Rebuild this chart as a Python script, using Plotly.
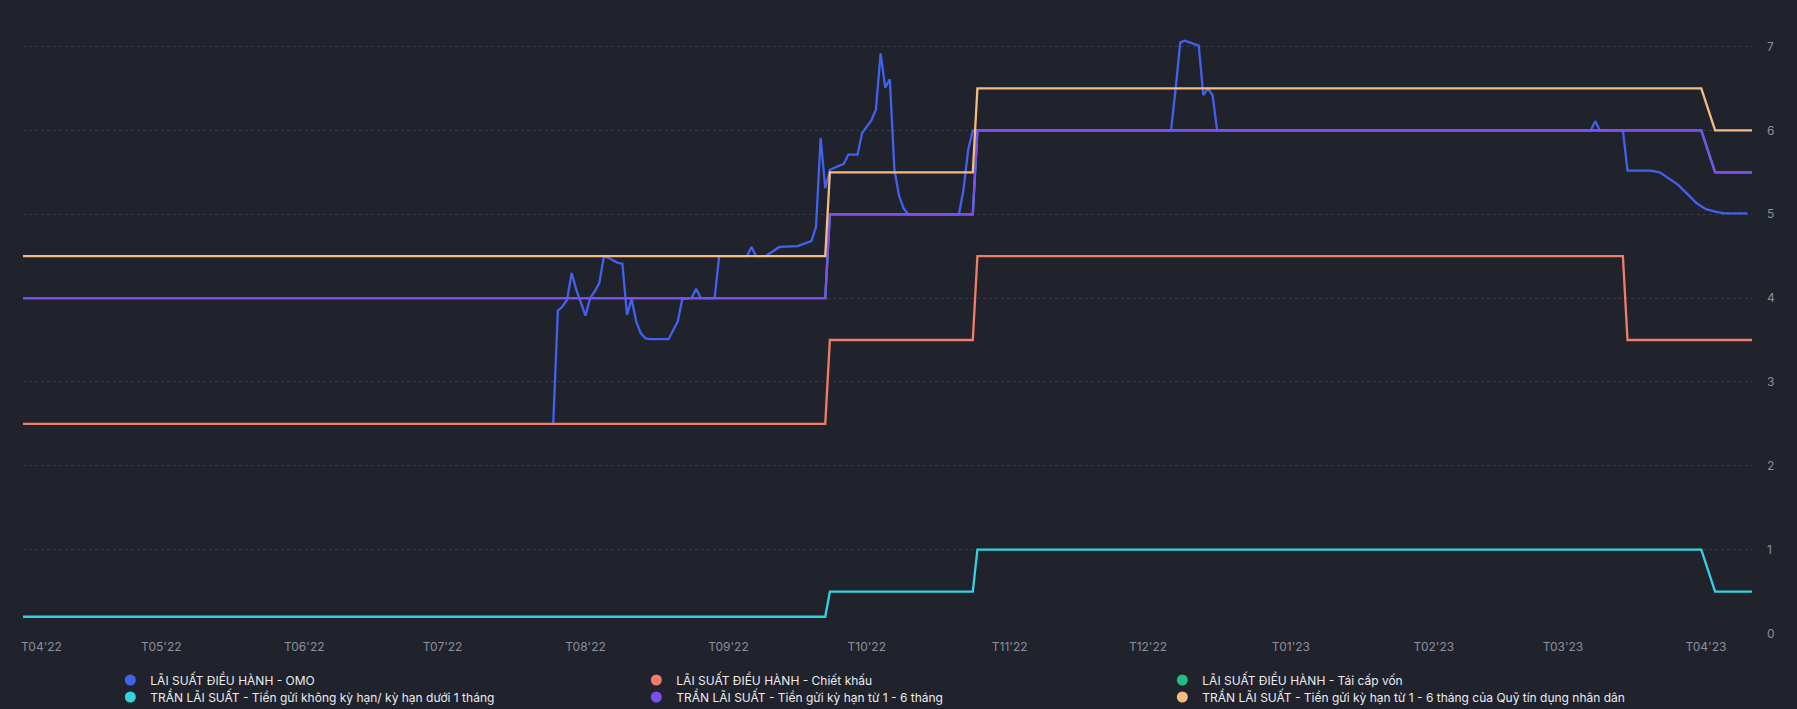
import plotly.graph_objects as go

# ---------------- data ----------------
step_dates = ["2022-04-01", "2022-09-22", "2022-09-23", "2022-10-24", "2022-10-25",
              "2023-03-14", "2023-03-15", "2023-03-31", "2023-04-03", "2023-04-11"]
chiet_khau = [2.5, 2.5, 3.5, 3.5, 4.5, 4.5, 3.5, 3.5, 3.5, 3.5]
tai_cap_von = [4.0, 4.0, 5.0, 5.0, 6.0, 6.0, 6.0, 6.0, 5.5, 5.5]
khong_ky_han = [0.2, 0.2, 0.5, 0.5, 1.0, 1.0, 1.0, 1.0, 0.5, 0.5]
ky_han_1_6 = [4.0, 4.0, 5.0, 5.0, 6.0, 6.0, 6.0, 6.0, 5.5, 5.5]
quy_tin_dung = [4.5, 4.5, 5.5, 5.5, 6.5, 6.5, 6.5, 6.5, 6.0, 6.0]

omo_dates = ["2022-07-25", "2022-07-26", "2022-07-27", "2022-07-28", "2022-07-29",
             "2022-07-30", "2022-08-01", "2022-08-02", "2022-08-03", "2022-08-04",
             "2022-08-05", "2022-08-06", "2022-08-08", "2022-08-09", "2022-08-10",
             "2022-08-11", "2022-08-12", "2022-08-13", "2022-08-14", "2022-08-15",
             "2022-08-19", "2022-08-21", "2022-08-22", "2022-08-24", "2022-08-25",
             "2022-08-26", "2022-08-29", "2022-08-30", "2022-09-05", "2022-09-06",
             "2022-09-07", "2022-09-09", "2022-09-11", "2022-09-12", "2022-09-16",
             "2022-09-19", "2022-09-20", "2022-09-21", "2022-09-22", "2022-09-23",
             "2022-09-26", "2022-09-27", "2022-09-29", "2022-09-30", "2022-10-02",
             "2022-10-03", "2022-10-04", "2022-10-05", "2022-10-06", "2022-10-07",
             "2022-10-08", "2022-10-09", "2022-10-10", "2022-10-21", "2022-10-22",
             "2022-10-23", "2022-10-24", "2022-12-06", "2022-12-07", "2022-12-08",
             "2022-12-09", "2022-12-12", "2022-12-13", "2022-12-14", "2022-12-15",
             "2022-12-16", "2023-03-07", "2023-03-08", "2023-03-09", "2023-03-14",
             "2023-03-15", "2023-03-20", "2023-03-22", "2023-03-24", "2023-03-26",
             "2023-03-28", "2023-03-30", "2023-04-01", "2023-04-03", "2023-04-05",
             "2023-04-10"]
omo_values = [2.5, 3.85, 3.9, 3.98, 4.3,
              4.1, 3.79, 4.0, 4.08, 4.18,
              4.5, 4.48, 4.42, 4.41, 3.8,
              3.99, 3.72, 3.58, 3.52, 3.51,
              3.51, 3.72, 3.99, 4.0, 4.11,
              4.0, 4.0, 4.5, 4.5, 4.61,
              4.5, 4.5, 4.57, 4.61, 4.62,
              4.68, 4.85, 5.91, 5.31, 5.53,
              5.6, 5.71, 5.71, 5.97, 6.12,
              6.25, 6.92, 6.51, 6.61, 5.53,
              5.22, 5.07, 5.0, 5.0, 5.3,
              5.77, 6.0, 6.0, 6.5, 7.05,
              7.07, 7.01, 6.42, 6.5, 6.42,
              6.0, 6.0, 6.11, 6.0, 6.0,
              5.52, 5.52, 5.5, 5.43, 5.35,
              5.24, 5.13, 5.06, 5.03, 5.01,
              5.01]

tick_dates = ["2022-04-05", "2022-05-01", "2022-06-01", "2022-07-01", "2022-08-01",
              "2022-09-01", "2022-10-01", "2022-11-01", "2022-12-01", "2023-01-01",
              "2023-02-01", "2023-03-01", "2023-04-01"]
tick_labels = ["T04'22", "T05'22", "T06'22", "T07'22", "T08'22", "T09'22", "T10'22",
               "T11'22", "T12'22", "T01'23", "T02'23", "T03'23", "T04'23"]

names = ["LÃI SUẤT ĐIỀU HÀNH - OMO",
         "LÃI SUẤT ĐIỀU HÀNH - Chiết khấu",
         "LÃI SUẤT ĐIỀU HÀNH - Tái cấp vốn",
         "TRẦN LÃI SUẤT - Tiền gửi không kỳ hạn/ kỳ hạn dưới 1 tháng",
         "TRẦN LÃI SUẤT - Tiền gửi kỳ hạn từ 1 - 6 tháng",
         "TRẦN LÃI SUẤT - Tiền gửi kỳ hạn từ 1 - 6 tháng của Quỹ tín dụng nhân dân"]
colors = ["#4262ee", "#f27c68", "#1fbd82", "#33d3e3", "#7b4fee", "#f6bb80"]

BG = "#20222c"

fig = go.Figure()

series = [(omo_dates, omo_values), (step_dates, chiet_khau), (step_dates, tai_cap_von),
          (step_dates, khong_ky_han), (step_dates, ky_han_1_6), (step_dates, quy_tin_dung)]

for (xs, ys), c, n in zip(series, colors, names):
    fig.add_trace(go.Scatter(x=xs, y=ys, mode="lines", name=n,
                             line=dict(color=c, width=2.3),
                             showlegend=False, hoverinfo="skip"))

for i, (c, n) in enumerate(zip(colors, names)):
    fig.add_trace(go.Scatter(x=[None], y=[None], mode="markers", name=n,
                             marker=dict(color=c, size=11, symbol="circle"),
                             showlegend=True,
                             legend="legend" if i < 3 else "legend2"))

legend_common = dict(orientation="h", xref="container", yref="container",
                     x=0.0614, xanchor="left", yanchor="middle",
                     entrywidth=481, entrywidthmode="pixels",
                     font=dict(size=12, color="#ececef"), bgcolor="rgba(0,0,0,0)",
                     itemclick=False, tracegroupgap=0)

fig.update_layout(
    width=1797, height=709,
    paper_bgcolor=BG, plot_bgcolor=BG,
    margin=dict(l=23, r=45, t=13, b=65),
    font=dict(family="Inter, Roboto, sans-serif", color="#e6e6ea", size=12),
    showlegend=True,
    legend=dict(legend_common, y=1 - 680.0 / 709),
    legend2=dict(legend_common, y=1 - 697.0 / 709),
    xaxis=dict(type="date", range=["2022-04-01", "2023-04-11"],
               tickvals=tick_dates, ticktext=tick_labels,
               showgrid=False, zeroline=False, showline=False,
               ticks="", tickfont=dict(size=12, color="#8d909a"),
               ticklabelstandoff=4),
    yaxis=dict(side="right", range=[0, 7.40], tickvals=[0, 1, 2, 3, 4, 5, 6, 7],
               showgrid=True, gridcolor="#393c49", griddash="dot", gridwidth=1,
               zeroline=False, showline=False, ticks="",
               tickfont=dict(size=12, color="#8d909a"), ticklabelstandoff=14),
)

fig.write_html("out.html", config={"displayModeBar": False},
               post_script="document.body.style.margin='0';document.body.style.background='%s';" % BG)
